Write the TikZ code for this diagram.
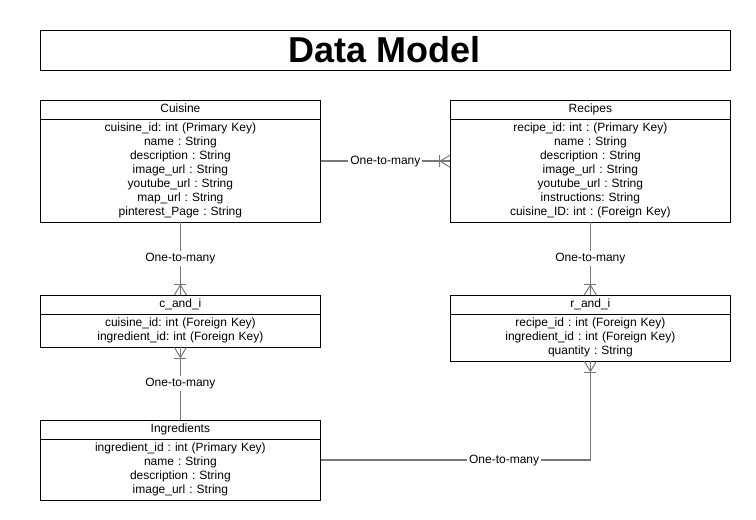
\documentclass[tikz,border=0pt]{standalone}
\usepackage{fontspec}
\setmainfont{Liberation Sans}
\frenchspacing
\usetikzlibrary{shapes.multipart}
\definecolor{linkgray}{RGB}{120,120,120}
\tikzset{
	entity/.style={draw, line width=0.8pt, rectangle split, rectangle split parts=2,
		text width=274pt, inner xsep=3pt, inner ysep=2pt, align=center,
		anchor=north west, font=\fontsize{12}{14}\selectfont},
	link/.style={draw=linkgray, line width=1.5pt},
	cardinality/.style={fill=white, inner sep=2pt, font=\fontsize{12}{14}\selectfont}
}
% one-or-many end, #2 = direction pointing away from the entity
\newcommand{\crowfoot}[2]{%
	\begin{scope}[shift={(#1)}, rotate=#2]
		\draw[link, line width=1pt] (0,6) -- (10,0) -- (0,-6);
		\draw[link, line width=1pt] (11,6) -- (11,-6);
	\end{scope}}
\begin{document}
\begin{tikzpicture}[x=1pt, y=-1pt]
	\useasboundingbox (0,0) rectangle (756,520);
	% title
		\node [draw, line width=1pt, minimum width=690pt, minimum height=40pt,
			font=\fontsize{36}{40}\selectfont\bfseries] (title) at (385,50) {Data Model};
	% tables
		\node [entity] (cuisine) at (40,100) {\strut Cuisine
			\nodepart{second}\strut cuisine\_id: int (Primary Key)\\ name : String\\ description : String\\
			image\_url : String\\ youtube\_url : String\\ map\_url : String\\ pinterest\_Page : String\strut};
		\node [entity] (recipes) at (450,100) {\strut Recipes
			\nodepart{second}\strut recipe\_id: int : (Primary Key)\\ name : String\\ description : String\\
			image\_url : String\\ youtube\_url : String\\ instructions: String\\ cuisine\_ID: int : (Foreign Key)\strut};
		\node [entity] (candi) at (40,295) {\strut c\_and\_i
			\nodepart{second}\strut cuisine\_id: int (Foreign Key)\\ ingredient\_id: int (Foreign Key)\strut};
		\node [entity] (randi) at (450,295) {\strut r\_and\_i
			\nodepart{second}\strut recipe\_id : int (Foreign Key)\\ ingredient\_id : int (Foreign Key)\\ quantity : String\strut};
		\node [entity] (ingredients) at (40,420) {\strut Ingredients
			\nodepart{second}\strut ingredient\_id : int (Primary Key)\\ name : String\\ description : String\\ image\_url : String\strut};
	% relations
		\draw [link] (cuisine.east) -- node [cardinality] {One-to-many} (recipes.west);
		\crowfoot{recipes.west}{180}
		\draw [link] (cuisine.south) -- node [cardinality] {One-to-many} (candi.north);
		\crowfoot{candi.north}{90}
		\draw [link] (ingredients.north) -- node [cardinality] {One-to-many} (candi.south);
		\crowfoot{candi.south}{-90}
		\draw [link] (recipes.south) -- node [cardinality] {One-to-many} (randi.north);
		\crowfoot{randi.north}{90}
		\draw [link] (ingredients.east) -| node [cardinality, pos=0.34] {One-to-many} (randi.south);
		\crowfoot{randi.south}{-90}
\end{tikzpicture}
\end{document}
